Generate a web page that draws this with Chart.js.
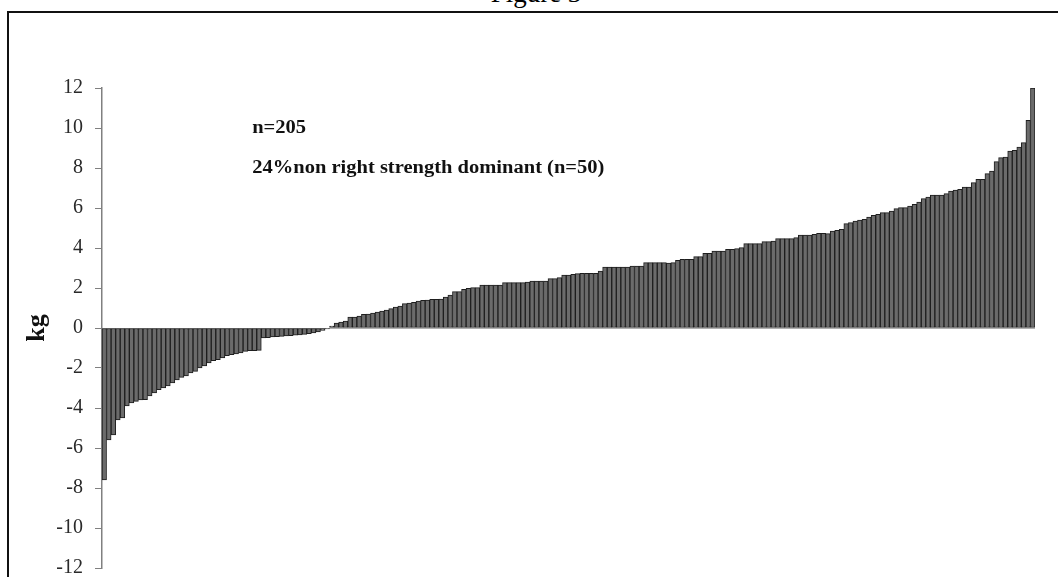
<!DOCTYPE html>
<html>
<head>
<meta charset="utf-8">
<script src="https://cdn.jsdelivr.net/npm/chart.js@4/dist/chart.umd.min.js"></script>
<style>
  html, body { margin: 0; padding: 0; background: #fff; overflow: hidden; }
  #title { position: absolute; left: 536px; top: -20px; transform: translateX(-50%);
           font: 27px "Liberation Serif", serif; color: #000; line-height: 27px; white-space: nowrap; }
  #frame { position: absolute; left: 7px; top: 11px; width: 1080px; height: 620px;
           border: 2px solid #111; box-sizing: border-box; }
  #wrap { position: absolute; left: 0; top: 0; width: 1058px; height: 592px; }
</style>
</head>
<body>
<div id="title">Figure 3</div>
<div id="frame"></div>
<div id="wrap"><canvas id="mycanvas"></canvas></div>
<script>
// 205 subjects, sorted difference (kg)
var negatives = [
  -7.6, -5.6, -5.35, -4.6, -4.5, -3.9, -3.75, -3.67, -3.6, -3.58,
  -3.4, -3.25, -3.08, -3.0, -2.9, -2.75, -2.6, -2.47, -2.4, -2.25,
  -2.17, -2.0, -1.9, -1.75, -1.63, -1.58, -1.5, -1.38, -1.33, -1.3,
  -1.25, -1.17, -1.13, -1.13, -1.12, -0.5, -0.48, -0.45, -0.43, -0.42,
  -0.4, -0.38, -0.36, -0.35, -0.32, -0.28, -0.25, -0.2, -0.12, -0.05
];
var positives = [
  0.1, 0.25, 0.3, 0.35, 0.55, 0.55, 0.6, 0.68, 0.7, 0.75,
  0.8, 0.85, 0.9, 0.97, 1.05, 1.1, 1.22, 1.25, 1.28, 1.35,
  1.38, 1.4, 1.43, 1.43, 1.45, 1.55, 1.65, 1.82, 1.82, 1.93,
  1.98, 2.02, 2.02, 2.15, 2.15, 2.15, 2.15, 2.15, 2.27, 2.27,
  2.27, 2.27, 2.27, 2.3, 2.35, 2.35, 2.35, 2.35, 2.47, 2.47,
  2.52, 2.65, 2.65, 2.68, 2.72, 2.73, 2.73, 2.73, 2.73, 2.85,
  3.05, 3.05, 3.05, 3.05, 3.05, 3.05, 3.1, 3.1, 3.1, 3.27,
  3.27, 3.27, 3.27, 3.27, 3.25, 3.27, 3.38, 3.43, 3.43, 3.43,
  3.57, 3.57, 3.73, 3.73, 3.85, 3.85, 3.85, 3.93, 3.93, 3.97,
  4.02, 4.22, 4.22, 4.22, 4.22, 4.32, 4.32, 4.35, 4.47, 4.47,
  4.47, 4.47, 4.52, 4.65, 4.65, 4.65, 4.68, 4.73, 4.73, 4.72,
  4.85, 4.88, 4.93, 5.22, 5.27, 5.35, 5.4, 5.43, 5.55, 5.63,
  5.68, 5.77, 5.77, 5.85, 5.97, 6.02, 6.02, 6.1, 6.18, 6.3,
  6.47, 6.55, 6.65, 6.65, 6.65, 6.72, 6.85, 6.9, 6.93, 7.05,
  7.05, 7.27, 7.43, 7.43, 7.72, 7.85, 8.32, 8.52, 8.55, 8.85,
  8.88, 9.05, 9.27, 10.38, 12.0
];
var values = negatives.concat(positives);
var subjects = values.map(function (v, i) { return String(i + 1); });
var yTicks = [-12, -10, -8, -6, -4, -2, 0, 2, 4, 6, 8, 10, 12];
var notes = ["n=205", "24%non right strength dominant (n=50)"];

var serif = '"Liberation Serif", "Times New Roman", serif';

// text notes in the upper left of the plot
var notesPlugin = {
  id: "notes",
  afterDraw: function (chart) {
    var c = chart.ctx;
    var xs = chart.scales.x;
    var x = (xs.getPixelForValue(32) + xs.getPixelForValue(33)) / 2;
    var y = chart.scales.y;
    c.save();
    c.fillStyle = "#111";
    c.font = "bold 18px " + serif;
    c.textBaseline = "middle";
    c.translate(x, 0);
    c.scale(1.14, 1);
    c.fillText(notes[0], 0, y.getPixelForValue(10));
    c.fillText(notes[1], 0, y.getPixelForValue(8));
    c.restore();
  }
};

var chart = new Chart(document.getElementById("mycanvas"), {
  type: "bar",
  data: {
    labels: subjects,
    datasets: [{
      data: values,
      backgroundColor: "#6b6b6b",
      borderColor: "#1e1e1e",
      borderWidth: 1,
      borderSkipped: false,
      barPercentage: 1,
      categoryPercentage: 1
    }]
  },
  options: {
    responsive: true,
    maintainAspectRatio: false,
    animation: false,
    layout: { padding: { left: 22, right: 23, top: 88, bottom: 0 } },
    plugins: { legend: { display: false }, tooltip: { enabled: false } },
    scales: {
      x: { display: false },
      y: {
        min: -12, max: 12,
        afterBuildTicks: function (axis) {
          axis.ticks = yTicks.map(function (v) { return { value: v }; });
        },
        afterFit: function (axis) { axis.width = 80; },
        border: { color: "#808080", width: 1.5 },
        grid: {
          drawOnChartArea: true,
          tickLength: 7,
          tickColor: "#808080",
          color: function (ctx) {
            return ctx.tick && ctx.tick.value === 0 ? "#b0b0b0" : "rgba(0,0,0,0)";
          }
        },
        ticks: {
          padding: 12,
          color: "#2a2a2a",
          font: { family: serif, size: 20 }
        },
        title: {
          display: true,
          text: "kg",
          color: "#111",
          padding: { top: 0, bottom: 2 },
          font: { family: serif, size: 26, weight: "bold" }
        }
      }
    }
  },
  plugins: [notesPlugin]
});
</script>
</body>
</html>
